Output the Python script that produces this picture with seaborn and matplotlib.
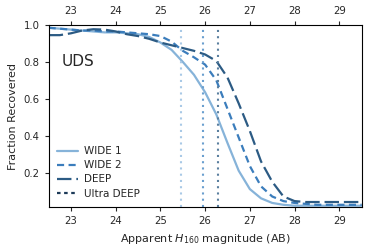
import pandas as pd
import matplotlib.pyplot as plt
import seaborn as sns

# Completeness curves, UDS field
mag = [22.5, 22.75, 23.0, 23.25, 23.5, 23.75, 24.0, 24.25, 24.5, 24.75,
       25.0, 25.25, 25.5, 25.75, 26.0, 26.25, 26.5, 26.75, 27.0, 27.25,
       27.5, 27.75, 28.0, 28.25, 28.5, 28.75, 29.0, 29.25, 29.5]

wide1 = [0.985, 0.98, 0.975, 0.97, 0.965, 0.96, 0.96, 0.955, 0.95, 0.935,
         0.905, 0.865, 0.80, 0.73, 0.635, 0.515, 0.36, 0.21, 0.11, 0.06,
         0.035, 0.025, 0.02, 0.02, 0.02, 0.02, 0.02, 0.02, 0.02]

wide2 = [0.985, 0.98, 0.975, 0.97, 0.97, 0.965, 0.965, 0.96, 0.955, 0.95,
         0.94, 0.91, 0.86, 0.825, 0.785, 0.70, 0.545, 0.39, 0.235, 0.125,
         0.07, 0.045, 0.035, 0.03, 0.025, 0.025, 0.025, 0.025, 0.025]

deep = [0.945, 0.945, 0.955, 0.97, 0.977, 0.975, 0.965, 0.95, 0.94, 0.925,
        0.905, 0.89, 0.875, 0.86, 0.84, 0.805, 0.715, 0.575, 0.425, 0.26,
        0.15, 0.07, 0.045, 0.04, 0.04, 0.04, 0.04, 0.04, 0.04]

# 50% completeness limits
limits = [25.46, 25.95, 26.28]
limit_colors = ["#a9c9e6", "#6a9fcf", "#5a7f9f"]

sns.set_style("ticks")
plt.rcParams["font.family"] = ["DejaVu Sans"]
plt.rcParams["font.size"] = 8

colors = {
    "WIDE 1": "#86b3d9",
    "WIDE 2": "#3b7dbc",
    "DEEP": "#2c5b84",
    "Ultra DEEP": "#1c3a58",
}
styles = {
    "WIDE 1": "-",
    "WIDE 2": (0, (3.2, 2.0)),
    "DEEP": (0, (6.5, 2.2)),
    "Ultra DEEP": (0, (1.6, 1.6)),
}

fig, ax = plt.subplots(figsize=(3.74, 2.5), dpi=100)

for name, vals in [("WIDE 1", wide1), ("WIDE 2", wide2), ("DEEP", deep)]:
    sns.lineplot(x=mag, y=vals, ax=ax, color=colors[name],
                 linestyle=styles[name], lw=1.6, label=name)
ax.plot([], [], color=colors["Ultra DEEP"], linestyle=styles["Ultra DEEP"],
        lw=1.6, label="Ultra DEEP")

for lim, c in zip(limits, limit_colors):
    ax.axvline(lim, color=c, linestyle=(0, (1, 2.0)), lw=1.5)

ax.text(22.8, 0.8, "UDS", fontsize=11, va="center")

ax.set_xlim(22.5, 29.5)
ax.set_ylim(0.013, 1.0)
ax.set_xticks([23, 24, 25, 26, 27, 28, 29])
ax.set_yticks([0.2, 0.4, 0.6, 0.8, 1.0])
ax.tick_params(top=True, labeltop=True, labelsize=7.3, length=3)
ax.set_xlabel("Apparent $H_{160}$ magnitude (AB)", fontsize=8)
ax.set_ylabel("Fraction Recovered", fontsize=8)
for s in ax.spines.values():
    s.set_visible(True)
    s.set_color("black")

ax.legend(loc="lower left", frameon=False, fontsize=7.5, handlelength=2.0,
          handletextpad=0.6, labelspacing=0.4, borderaxespad=0.4)

fig.subplots_adjust(left=0.13, right=0.967, top=0.9, bottom=0.172)
fig.savefig("out.png", dpi=100)
